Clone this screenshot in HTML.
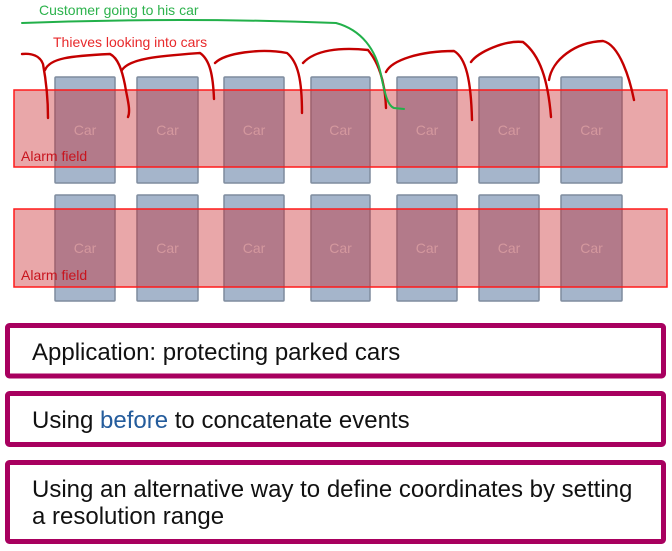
<!DOCTYPE html>
<html>
<head>
<meta charset="utf-8">
<style>
  html,body{margin:0;padding:0;background:#fff;}
  body{width:672px;height:551px;overflow:hidden;}
  svg{display:block;}
  text{font-family:"Liberation Sans", Arial, sans-serif;}
</style>
</head>
<body>
<svg width="672" height="551" viewBox="0 0 672 551" xmlns="http://www.w3.org/2000/svg">
  <rect x="0" y="0" width="672" height="551" fill="#ffffff"/>

  <!-- Row 1 cars -->
  <g fill="#a5b5cb" stroke="#7f8c9e" stroke-width="1.5">
    <rect x="55" y="77" width="60" height="106" rx="1"/>
    <rect x="137" y="77" width="61" height="106" rx="1"/>
    <rect x="224" y="77" width="60" height="106" rx="1"/>
    <rect x="311" y="77" width="59" height="106" rx="1"/>
    <rect x="397" y="77" width="60" height="106" rx="1"/>
    <rect x="479" y="77" width="60" height="106" rx="1"/>
    <rect x="561" y="77" width="61" height="106" rx="1"/>
  </g>
  <!-- Row 2 cars -->
  <g fill="#a5b5cb" stroke="#7f8c9e" stroke-width="1.5">
    <rect x="55" y="195" width="60" height="106" rx="1"/>
    <rect x="137" y="195" width="61" height="106" rx="1"/>
    <rect x="224" y="195" width="60" height="106" rx="1"/>
    <rect x="311" y="195" width="59" height="106" rx="1"/>
    <rect x="397" y="195" width="60" height="106" rx="1"/>
    <rect x="479" y="195" width="60" height="106" rx="1"/>
    <rect x="561" y="195" width="61" height="106" rx="1"/>
  </g>

  <!-- Alarm fields -->
  <rect x="14" y="90" width="653" height="77" fill="rgba(200,35,40,0.4)" stroke="#ff1a1a" stroke-width="1.5"/>
  <rect x="14" y="209" width="653" height="78" fill="rgba(200,35,40,0.4)" stroke="#ff1a1a" stroke-width="1.5"/>

  <!-- Car labels -->
  <g font-size="14" fill="#d4989e" text-anchor="middle">
    <text x="85" y="135">Car</text>
    <text x="167.5" y="135">Car</text>
    <text x="254" y="135">Car</text>
    <text x="340.5" y="135">Car</text>
    <text x="427" y="135">Car</text>
    <text x="509" y="135">Car</text>
    <text x="591.5" y="135">Car</text>
    <text x="85" y="253">Car</text>
    <text x="167.5" y="253">Car</text>
    <text x="254" y="253">Car</text>
    <text x="340.5" y="253">Car</text>
    <text x="427" y="253">Car</text>
    <text x="509" y="253">Car</text>
    <text x="591.5" y="253">Car</text>
  </g>

  <!-- Alarm field labels -->
  <g font-size="14" fill="#c8141e">
    <text x="21" y="161">Alarm field</text>
    <text x="21" y="280">Alarm field</text>
  </g>

  <!-- Top labels -->
  <text x="39" y="15" font-size="14" fill="#2cb24c">Customer going to his car</text>
  <text x="53" y="47" font-size="14" fill="#e8292b">Thieves looking into cars</text>

  <!-- Red thief paths -->
  <g fill="none" stroke="#c40000" stroke-width="2.4" stroke-linecap="round" stroke-linejoin="round">
    <path d="M22,54 C32,53 40,56 43,64 C46,80 48,100 48,118"/>
    <path d="M45,70 C50,58 70,56 110,54 C118,58 122,70 125,85 C127,98 131,110 128,117"/>
    <path d="M122,70 C130,58 160,56 200,53 C210,60 213,75 214,99"/>
    <path d="M215,63 C225,53 260,48 287,53 C298,62 302,80 302,113"/>
    <path d="M303,63 C315,50 340,47 368,50 C378,62 385,80 386,108"/>
    <path d="M386,72 C392,60 420,51 454,51 C466,58 471,80 472,120"/>
    <path d="M471,62 C478,52 505,40 523,42 C540,55 548,80 551,117"/>
    <path d="M549,80 C552,60 575,42 603,41 C620,45 630,80 634,100"/>
  </g>

  <!-- Green customer path -->
  <path d="M22,23 Q180,17 336,23 C362,30 376,50 381,75 C385,95 388,106 394,108 L404,109" fill="none" stroke="#22b04a" stroke-width="2" stroke-linecap="round" stroke-linejoin="round"/>

  <!-- Info boxes -->
  <g fill="#ffffff" stroke="#a8005f" stroke-width="5">
    <rect x="7.5" y="325.5" width="656" height="50.5" rx="2"/>
    <rect x="7.5" y="393.5" width="656" height="51" rx="2"/>
    <rect x="7.5" y="462.5" width="656" height="79" rx="2"/>
  </g>
  <g font-size="24" fill="#111111">
    <text x="32" y="360">Application: protecting parked cars</text>
    <text x="32" y="428">Using <tspan fill="#245c9c">before</tspan> to concatenate events</text>
    <text x="32" y="497">Using an alternative way to define coordinates by setting</text>
    <text x="32" y="524">a resolution range</text>
  </g>
</svg>
</body>
</html>
